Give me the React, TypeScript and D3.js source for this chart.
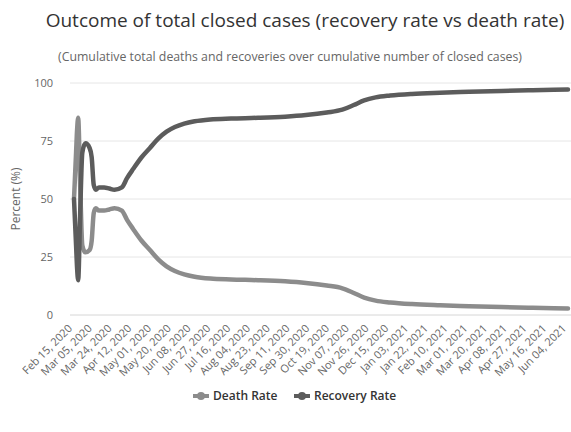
import * as d3 from "d3";

const WIDTH = 571;
const HEIGHT = 432;
const MARGIN = { top: 83, right: 0, bottom: 117, left: 74 };

const TITLE = "Outcome of total closed cases (recovery rate vs death rate)";
const SUBTITLE = "(Cumulative total deaths and recoveries over cumulative number of closed cases)";

// x-axis tick labels (every 19 days)
const tickLabels = [
  "Feb 15, 2020", "Mar 05, 2020", "Mar 24, 2020", "Apr 12, 2020", "May 01, 2020",
  "May 20, 2020", "Jun 08, 2020", "Jun 27, 2020", "Jul 16, 2020", "Aug 04, 2020",
  "Aug 23, 2020", "Sep 11, 2020", "Sep 30, 2020", "Oct 19, 2020", "Nov 07, 2020",
  "Nov 26, 2020", "Dec 15, 2020", "Jan 03, 2021", "Jan 22, 2021", "Feb 10, 2021",
  "Mar 01, 2021", "Mar 20, 2021", "Apr 08, 2021", "Apr 27, 2021", "May 16, 2021",
  "Jun 04, 2021",
];

const yTicks = [0, 25, 50, 75, 100];

// values
const dates = [
  "2020-02-15", "2020-02-17", "2020-02-18", "2020-02-19", "2020-02-21", "2020-02-23",
  "2020-02-26", "2020-03-01", "2020-03-03", "2020-03-05", "2020-03-07", "2020-03-10",
  "2020-03-15", "2020-03-20", "2020-03-25", "2020-04-01", "2020-04-06", "2020-04-12",
  "2020-04-20", "2020-04-28", "2020-05-06", "2020-05-14", "2020-05-22", "2020-05-31",
  "2020-06-10", "2020-06-25", "2020-07-15", "2020-08-10", "2020-09-05", "2020-09-25",
  "2020-10-15", "2020-10-30", "2020-11-10", "2020-11-20", "2020-12-01", "2020-12-15",
  "2021-01-05", "2021-02-01", "2021-03-01", "2021-04-01", "2021-05-01", "2021-06-04",
];
const recoveryRate = [
  50, 30, 20, 15, 45, 70,
  74, 72, 68, 56, 54, 55,
  55, 54.5, 54, 55, 59, 63,
  68, 72, 76, 79, 81, 82.5,
  83.5, 84.3, 84.7, 85, 85.5, 86.2,
  87.3, 88.5, 90.5, 92.5, 93.8, 94.6,
  95.3, 95.8, 96.2, 96.6, 96.9, 97.2,
];
const deathRate = [
  50, 70, 80, 85, 55, 30,
  27, 28, 32, 44, 46, 45,
  45, 45.5, 46, 45, 41, 37,
  32, 28, 24, 21, 19, 17.5,
  16.5, 15.7, 15.3, 15, 14.5, 13.8,
  12.7, 11.5, 9.5, 7.5, 6.2, 5.4,
  4.7, 4.2, 3.8, 3.4, 3.1, 2.8,
];

const DEATH_COLOR = "#8c8c8c";
const RECOVERY_COLOR = "#5c5c5c";
const FONT = "'Open Sans', sans-serif";

type Pt = { date: Date; v: number };

export default function App() {
  const parseIso = d3.timeParse("%Y-%m-%d");
  const parseTick = d3.timeParse("%b %d, %Y");

  const x = d3
    .scaleTime()
    .domain([parseIso("2020-02-15")!, parseIso("2021-06-04")!])
    .range([MARGIN.left, WIDTH - 3]);
  const y = d3
    .scaleLinear()
    .domain([0, 100])
    .range([HEIGHT - MARGIN.bottom, MARGIN.top]);

  const line = d3
    .line<Pt>()
    .x((d) => x(d.date))
    .y((d) => y(d.v))
    .curve(d3.curveMonotoneX);

  const death: Pt[] = dates.map((d, i) => ({ date: parseIso(d)!, v: deathRate[i] }));
  const recovery: Pt[] = dates.map((d, i) => ({ date: parseIso(d)!, v: recoveryRate[i] }));

  const legend = [
    { name: "Death Rate", color: DEATH_COLOR, x: 193 },
    { name: "Recovery Rate", color: RECOVERY_COLOR, x: 294 },
  ];
  const legendY = 396;

  return (
    <svg
      width={WIDTH}
      height={HEIGHT}
      style={{ position: "absolute", left: 0, top: 0, background: "#fff" }}
      fontFamily={FONT}
    >
      <defs>
        <clipPath id="plot">
          <rect x={MARGIN.left - 10} y={0} width={WIDTH} height={HEIGHT - MARGIN.bottom + 5} />
        </clipPath>
      </defs>

      <text x={305} y={27} textAnchor="middle" fontSize={19} fill="#333">
        {TITLE}
      </text>
      <text x={290} y={61} textAnchor="middle" fontSize={12.3} fill="#666">
        {SUBTITLE}
      </text>

      {/* grid + y ticks */}
      {yTicks.map((t) => (
        <g key={t}>
          <line x1={MARGIN.left - 4} x2={WIDTH} y1={y(t)} y2={y(t)} stroke={t === 0 ? "#d6d6d6" : "#e6e6e6"} />
          <text x={53} y={y(t) + 4} textAnchor="end" fontSize={11} fill="#666">
            {t}
          </text>
        </g>
      ))}

      <text
        transform={`translate(20,${y(50)}) rotate(-90)`}
        textAnchor="middle"
        fontSize={12}
        fill="#666"
      >
        Percent (%)
      </text>

      {/* x tick labels */}
      {tickLabels.map((lbl) => {
        const tx = x(parseTick(lbl)!);
        return (
          <text
            key={lbl}
            transform={`translate(${tx - 1},${HEIGHT - MARGIN.bottom + 14}) rotate(-45)`}
            textAnchor="end"
            fontSize={11}
            fill="#666"
          >
            {lbl}
          </text>
        );
      })}

      <g clipPath="url(#plot)" fill="none" strokeLinejoin="round" strokeLinecap="round">
        <path d={line(death) ?? ""} stroke={DEATH_COLOR} strokeWidth={4.5} />
        <path d={line(recovery) ?? ""} stroke={RECOVERY_COLOR} strokeWidth={4.5} />
      </g>

      {/* legend */}
      {legend.map((l) => (
        <g key={l.name}>
          <line x1={l.x} x2={l.x + 16} y1={legendY} y2={legendY} stroke={l.color} strokeWidth={4} />
          <circle cx={l.x + 8} cy={legendY} r={4} fill={l.color} />
          <text x={l.x + 20} y={legendY + 4} fontSize={12} fontWeight={600} fill="#333">
            {l.name}
          </text>
        </g>
      ))}
    </svg>
  );
}
